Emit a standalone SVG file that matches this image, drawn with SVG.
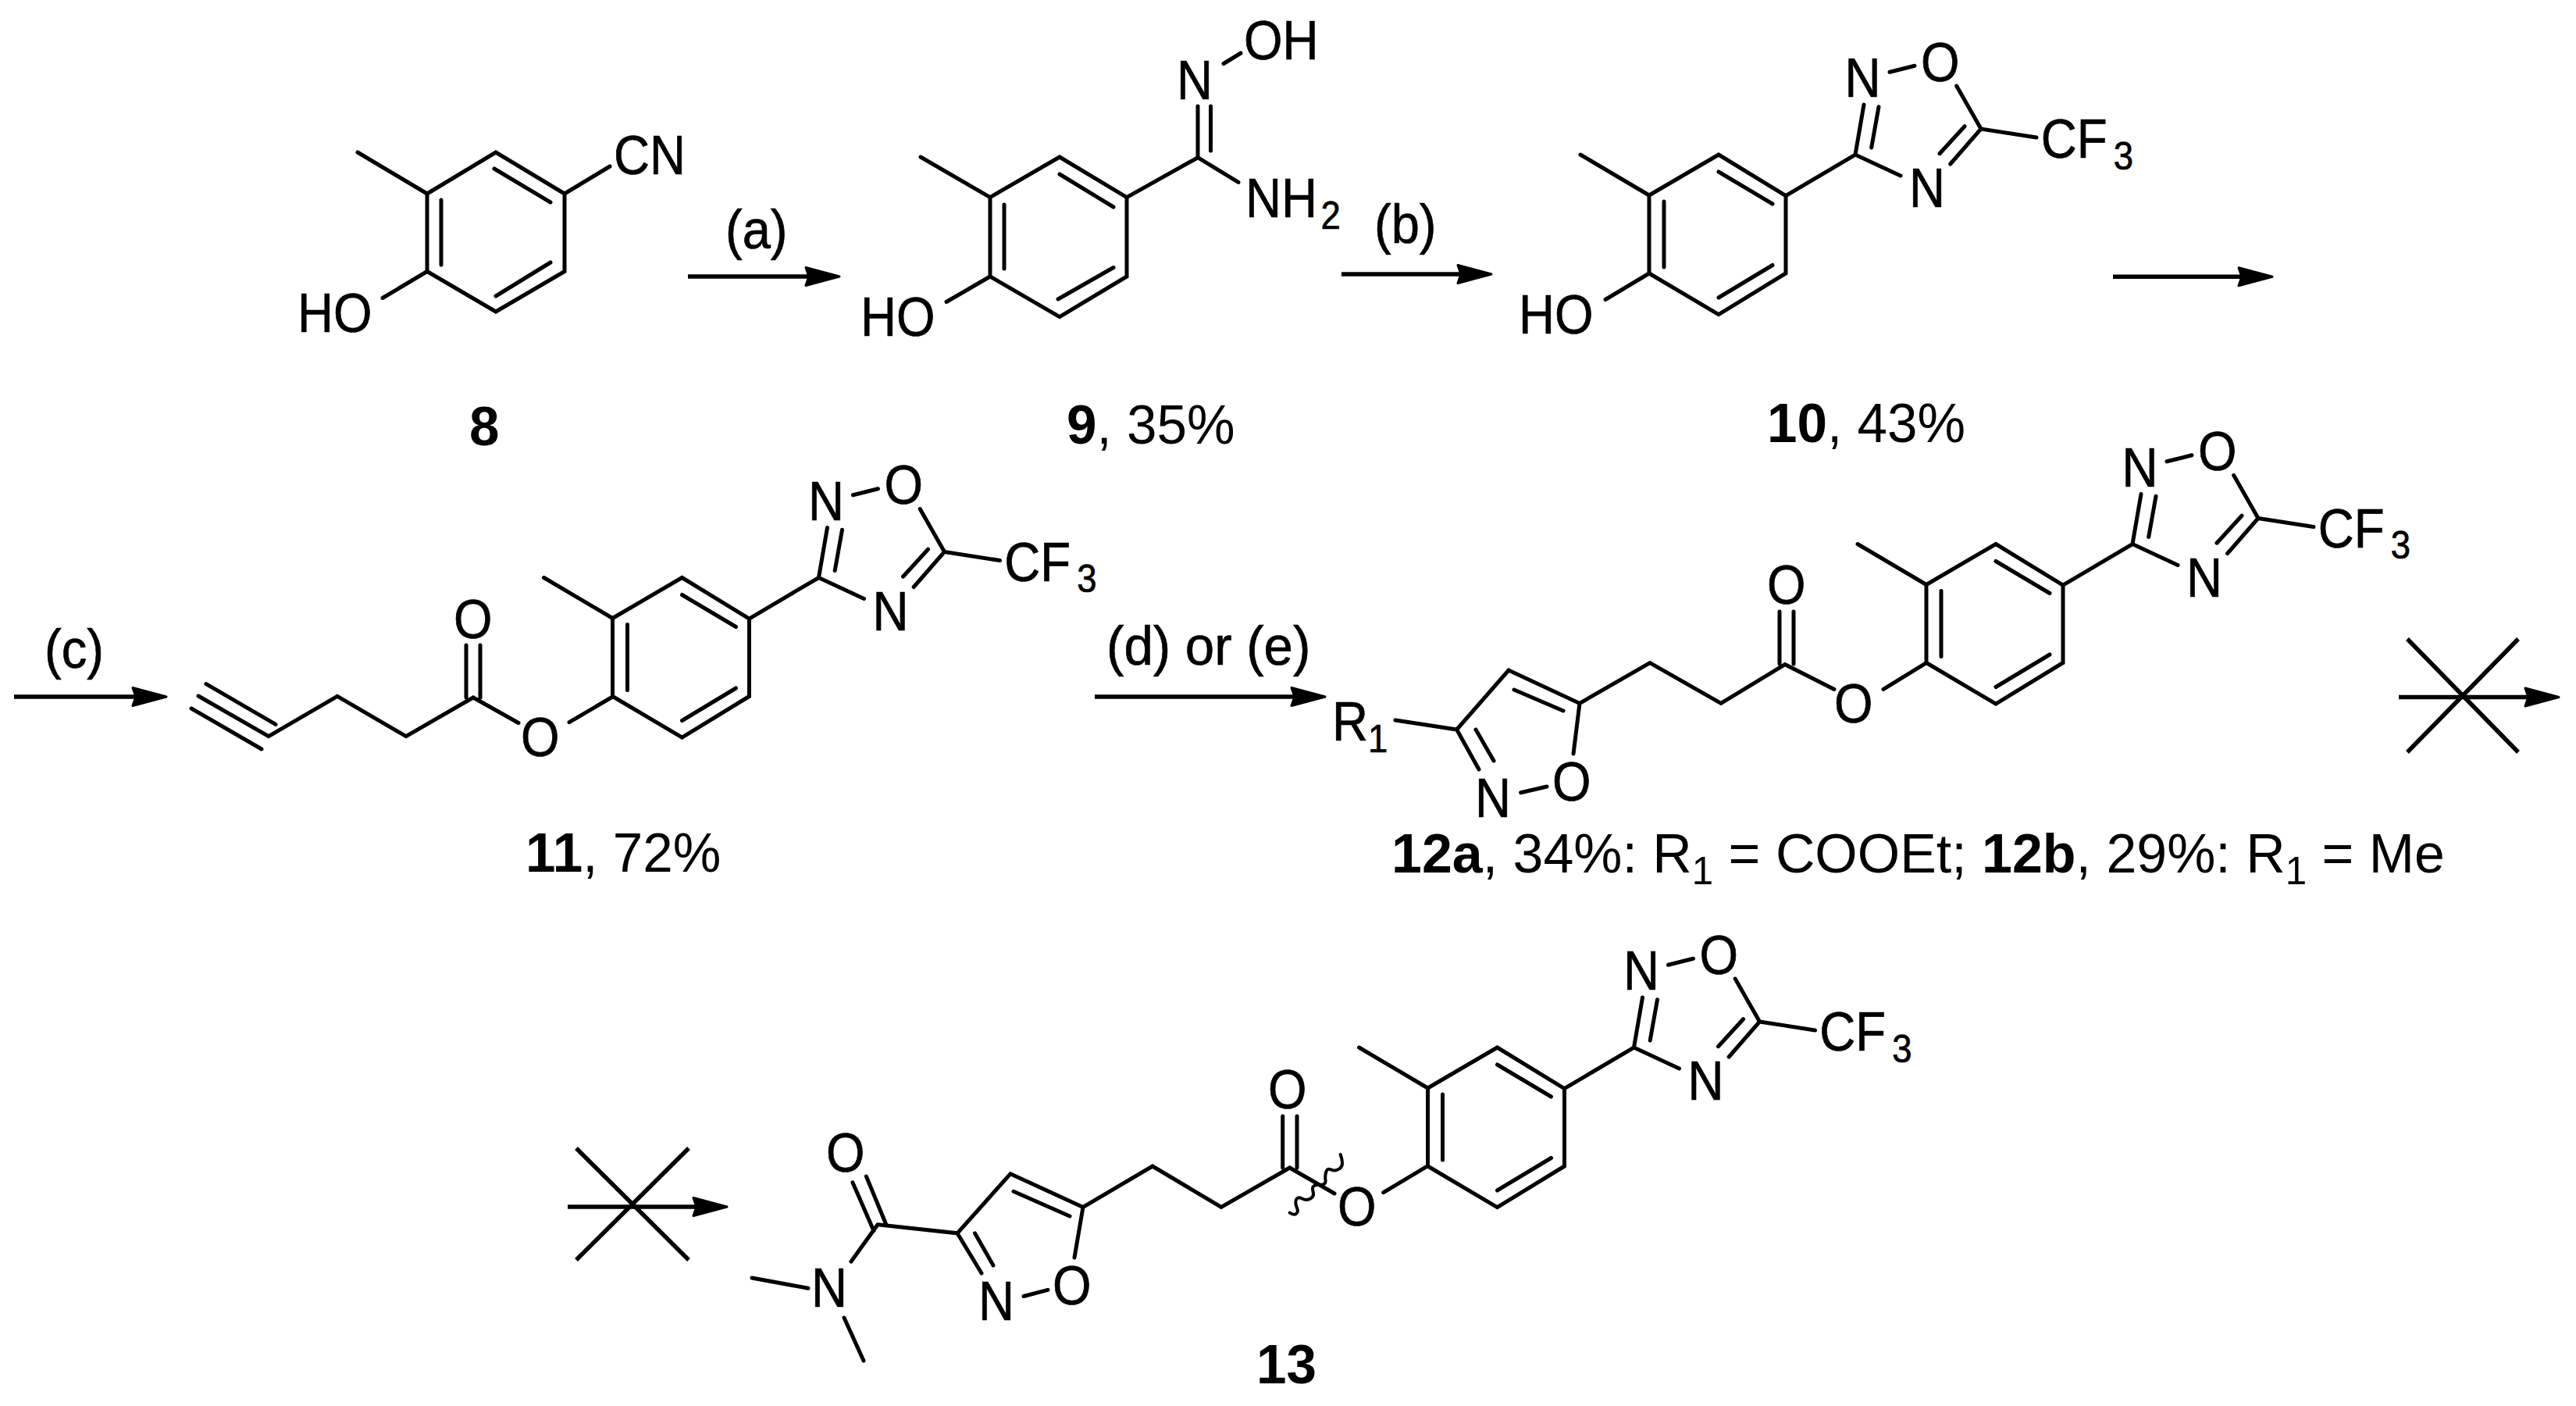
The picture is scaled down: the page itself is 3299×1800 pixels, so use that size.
<svg xmlns="http://www.w3.org/2000/svg" width="3299" height="1800" viewBox="0 0 3299 1800">
<style>
.t{font-family:"Liberation Sans",Arial,sans-serif;font-size:70px;fill:#000;stroke:#000;stroke-width:.7px}
.y{font-family:"Liberation Sans",Arial,sans-serif;font-size:71px;fill:#000}
.s{font-size:50px}
.b{font-weight:bold}
.l{fill:none;stroke:#000;stroke-width:5;stroke-linecap:round;stroke-linejoin:miter}
.i{fill:none;stroke:#000;stroke-width:5;stroke-linecap:round}
.a{fill:none;stroke:#000;stroke-width:5.5}
.x{fill:none;stroke:#000;stroke-width:5.5}
.w{fill:none;stroke:#000;stroke-width:4;stroke-linecap:round}
</style>
<defs>
<marker id="ah" markerUnits="userSpaceOnUse" markerWidth="48" markerHeight="28" refX="37" refY="14" orient="auto" viewBox="0 0 48 28"><path d="M2,2.5 L45,14 L2,25.5 L6,14Z" fill="#000" stroke="#000" stroke-width="3" stroke-linejoin="round"/></marker>
</defs>
<rect width="3299" height="1800" fill="#fff"/>

<g id="connectors">
<path class="a" d="M881 354H1067" marker-end="url(#ah)"/>
<path class="a" d="M1718 351H1902" marker-end="url(#ah)"/>
<path class="a" d="M2706 354.3H2902" marker-end="url(#ah)"/>
<path class="a" d="M18 892H205" marker-end="url(#ah)"/>
<path class="a" d="M1402 892H1689" marker-end="url(#ah)"/>
<path class="a" d="M3072 892.5H3269" marker-end="url(#ah)"/>
<path class="a" d="M727 1545H923" marker-end="url(#ah)"/>
<path class="x" d="M3083 818L3225 963M3225 818L3083 963"/>
<path class="x" d="M738 1470L882 1613M882 1470L738 1613"/>
<text class="t" transform="translate(929 318) scale(.93 1)">(a)</text>
<text class="t" transform="translate(1760 311) scale(.93 1)">(b)</text>
<text class="t" transform="translate(57 855) scale(.93 1)">(c)</text>
<text class="t" transform="translate(1417 851) scale(.96 1)">(d) or (e)</text>
</g>

<g id="compound-8">
<path class="l" d="M547 248L635 195L723 248V347.5L635 399L547 347.5Z"/>
<path class="l" d="M458 195L547 248M723 248L781 213M547 347.5L490 381.5"/>
<path class="i" d="M565 256V339M633 216L705 259M705 336L635 379"/>
<text class="t" transform="translate(786 223) scale(.91 1)">CN</text>
<text class="t" transform="translate(381 425) scale(.91 1)">HO</text>
<text class="y b" transform="translate(601 570) scale(.975 1)">8</text>
</g>

<g id="compound-9">
<path class="l" d="M1268 252.6L1357 201L1443 252.6V354L1357 405.7L1268 354Z"/>
<path class="l" d="M1179 201L1268 252.6M1443 252.6L1534 201.7L1586 233.4M1534 201.7V136M1268 354L1212 386.5M1567 81.5L1589 68"/>
<path class="i" d="M1286 262V344M1357 223L1426 265M1426 342.5L1355 383M1550.5 136V193"/>
<text class="t" transform="translate(1507 127) scale(.91 1)">N</text>
<text class="t" transform="translate(1593 76) scale(.91 1)">OH</text>
<text class="t" transform="translate(1595 278) scale(.91 1)">NH<tspan class="s" dx="5" dy="15">2</tspan></text>
<text class="t" transform="translate(1102 430) scale(.91 1)">HO</text>
<text class="y" transform="translate(1366 568) scale(.975 1)"><tspan class="b">9</tspan>, 35%</text>
</g>

<g id="compound-10">
<path class="l" d="M2112 250L2201 198L2287 250.6V350L2201 402.6L2112 350Z"/>
<path class="l" d="M2024 198L2112 250M2287 250.6L2376 198L2434 225M2376 198L2387 134M2505.7 110L2537 165L2497.7 210M2537 165L2608 176M2112 350L2056 383.5M2420 92.3L2452 84.3"/>
<path class="i" d="M2131 258V342M2201 220L2270 261M2270 339.5L2201 381M2396.7 189L2406 136.7M2516 161.7L2484 196.7"/>
<text class="t" transform="translate(2362.5 124) scale(.91 1)">N</text>
<text class="t" transform="translate(2460 103.5) scale(.91 1)">O</text>
<text class="t" transform="translate(2445 265) scale(.91 1)">N</text>
<text class="t" transform="translate(2613.7 202) scale(.91 1)">CF<tspan class="s" dx="9" dy="14.5">3</tspan></text>
<text class="t" transform="translate(1945 427) scale(.91 1)">HO</text>
<text class="y" transform="translate(2263 566) scale(.975 1)"><tspan class="b">10</tspan>, 43%</text>
</g>

<g id="compound-11">
<path class="l" d="M254 891L344 942.7L432 891.4L520 942.7L606 893L664 925.5M597 826V893M615 826V893"/>
<path class="l" d="M264 875.7L353 927.4M245 907L335 959"/>
<text class="t" transform="translate(581 817) scale(.91 1)">O</text>
<text class="t" transform="translate(667 968) scale(.91 1)">O</text>
<path class="l" d="M729 924.7L784.5 892"/>
<g transform="translate(-1327.5 541.5)">
<path class="l" d="M2112 250L2201 198L2287 250.6V350L2201 402.6L2112 350Z"/>
<path class="l" d="M2024 198L2112 250M2287 250.6L2376 198L2434 225M2376 198L2387 134M2505.7 110L2537 165L2497.7 210M2537 165L2608 176M2420 92.3L2452 84.3"/>
<path class="i" d="M2131 258V342M2201 220L2270 261M2270 339.5L2201 381M2396.7 189L2406 136.7M2516 161.7L2484 196.7"/>
<text class="t" transform="translate(2362.5 124) scale(.91 1)">N</text>
<text class="t" transform="translate(2460 103.5) scale(.91 1)">O</text>
<text class="t" transform="translate(2445 265) scale(.91 1)">N</text>
<text class="t" transform="translate(2613.7 202) scale(.91 1)">CF<tspan class="s" dx="9" dy="14.5">3</tspan></text>
</g>
<text class="y" transform="translate(673 1116) scale(.975 1)"><tspan class="b">11</tspan>, 72%</text>
</g>

<g id="compound-12">
<path class="l" d="M1787 922L1865.6 934L1932 858L2023 900.4L2113 848.6L2204 900.4L2286 850.6L2349 882.4M2279 783V850M2297 783V850M1865.6 934L1894 985M2023 900.4L2015 965M1947.6 1014.7L1981 1007M2412 882.4L2467 848.6"/>
<path class="i" d="M1939 883L2002 910M1890 934L1913 974"/>
<text class="t" transform="translate(2263 773) scale(.91 1)">O</text>
<text class="t" transform="translate(2349 925) scale(.91 1)">O</text>
<text class="t" transform="translate(1988 1025) scale(.91 1)">O</text>
<text class="t" transform="translate(1889 1046) scale(.91 1)">N</text>
<text class="t" transform="translate(1706 948) scale(.91 1)">R<tspan class="s" dy="15">1</tspan></text>
<g transform="translate(355 498.5)">
<path class="l" d="M2112 250L2201 198L2287 250.6V350L2201 402.6L2112 350Z"/>
<path class="l" d="M2024 198L2112 250M2287 250.6L2376 198L2434 225M2376 198L2387 134M2505.7 110L2537 165L2497.7 210M2537 165L2608 176M2420 92.3L2452 84.3"/>
<path class="i" d="M2131 258V342M2201 220L2270 261M2270 339.5L2201 381M2396.7 189L2406 136.7M2516 161.7L2484 196.7"/>
<text class="t" transform="translate(2362.5 124) scale(.91 1)">N</text>
<text class="t" transform="translate(2460 103.5) scale(.91 1)">O</text>
<text class="t" transform="translate(2445 265) scale(.91 1)">N</text>
<text class="t" transform="translate(2613.7 202) scale(.91 1)">CF<tspan class="s" dx="9" dy="14.5">3</tspan></text>
</g>
<text class="y" transform="translate(1782 1116.5) scale(.985 1)"><tspan class="b">12a</tspan>, 34%: R<tspan class="s" dy="15">1</tspan><tspan dy="-15"> = COOEt; </tspan><tspan class="b">12b</tspan>, 29%: R<tspan class="s" dy="15">1</tspan><tspan dy="-15"> = Me</tspan></text>
</g>

<g id="compound-13">
<path class="l" d="M1092 1513.9L1119 1575.7M1109.4 1506L1135 1568M1124 1567.8L1226 1578.8L1294 1502.8L1387 1545.4L1476 1493L1564 1545.4L1651.7 1495L1709 1528M1124 1567.8L1090 1615M963 1636L1035 1649.3M1081 1687L1106 1742M1226 1578.8L1257 1630M1311 1659.5L1342 1651.3M1376 1610L1387 1545.4M1642.7 1429V1495M1661 1429V1495M1771.7 1526.7L1828.5 1492.7"/>
<path class="i" d="M1298 1525.3L1370 1557M1248.5 1578.8L1272 1620"/>
<path class="w" d="M1716.7 1478Q1721.7 1491.7 1715.85 1495.85Q1710 1500 1705 1497.5Q1700 1495 1698.35 1500Q1696.7 1505 1697.5 1510.85Q1698.3 1516.7 1691.65 1516.7Q1685 1516.7 1682.5 1518.35Q1680 1520 1681.65 1525.85Q1683.3 1531.7 1678.3 1534.5Q1673.3 1537.3 1667.5 1534.5Q1661.7 1531.7 1660 1535.85Q1658.3 1540 1660.8 1545.85Q1663.3 1551.7 1660 1553.85Q1656.7 1556 1651.7 1552.7"/>
<text class="t" transform="translate(1058 1500) scale(.91 1)">O</text>
<text class="t" transform="translate(1039 1673) scale(.91 1)">N</text>
<text class="t" transform="translate(1253 1690) scale(.91 1)">N</text>
<text class="t" transform="translate(1348 1670) scale(.91 1)">O</text>
<text class="t" transform="translate(1624 1419) scale(.91 1)">O</text>
<text class="t" transform="translate(1713 1569) scale(.91 1)">O</text>
<g transform="translate(-283.5 1143)">
<path class="l" d="M2112 250L2201 198L2287 250.6V350L2201 402.6L2112 350Z"/>
<path class="l" d="M2024 198L2112 250M2287 250.6L2376 198L2434 225M2376 198L2387 134M2505.7 110L2537 165L2497.7 210M2537 165L2608 176M2420 92.3L2452 84.3"/>
<path class="i" d="M2131 258V342M2201 220L2270 261M2270 339.5L2201 381M2396.7 189L2406 136.7M2516 161.7L2484 196.7"/>
<text class="t" transform="translate(2362.5 124) scale(.91 1)">N</text>
<text class="t" transform="translate(2460 103.5) scale(.91 1)">O</text>
<text class="t" transform="translate(2445 265) scale(.91 1)">N</text>
<text class="t" transform="translate(2613.7 202) scale(.91 1)">CF<tspan class="s" dx="9" dy="14.5">3</tspan></text>
</g>
<text class="y b" transform="translate(1609 1771) scale(.975 1)">13</text>
</g>
</svg>
